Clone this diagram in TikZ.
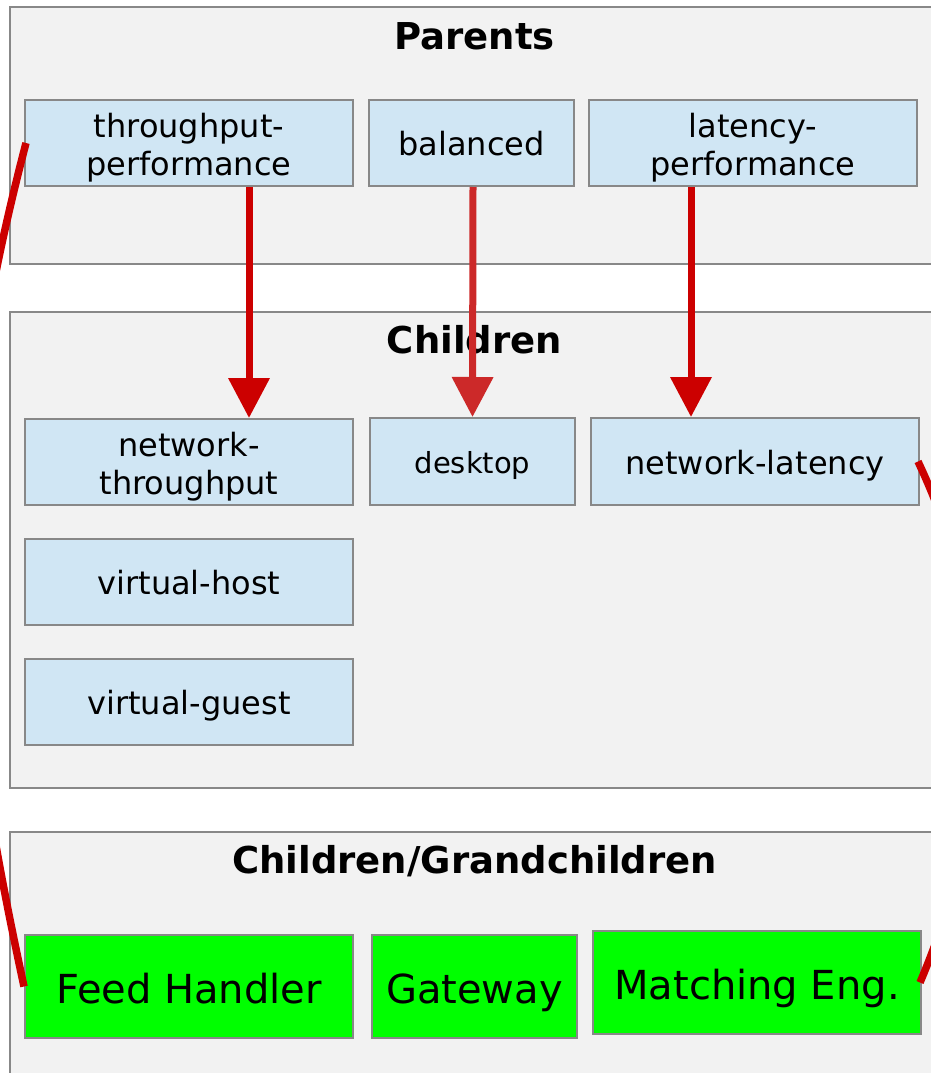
\documentclass[tikz,border=0pt]{standalone}
\usepackage{fontspec}
\setmainfont{DejaVu Sans}
\usetikzlibrary{arrows.meta,calc}
\definecolor{clfill}{HTML}{F2F2F2}
\definecolor{clline}{HTML}{888888}
\definecolor{nfill}{HTML}{D0E6F4}
\definecolor{redA}{HTML}{CC0000}
\definecolor{redB}{HTML}{CC2929}
\definecolor{grn}{HTML}{00FF00}
\begin{document}
\begin{tikzpicture}[x=1pt,y=-1pt,
  cluster/.style={draw=clline,fill=clfill,line width=2pt},
  ctitle/.style={font=\fontsize{37}{40}\selectfont\bfseries,anchor=center},
  box/.style={draw=clline,fill=nfill,line width=2pt,inner sep=0pt,minimum width=328pt,minimum height=86pt,align=center,font=\fontsize{32}{37.5}\selectfont,text height=33.5pt,text depth=7.7pt},
  twoline/.style={text height=70pt,text depth=6pt},
  narrow/.style={minimum width=205pt},
  gbox/.style={box,fill=grn,minimum height=103pt,font=\fontsize{40}{44}\selectfont,text height=38pt,text depth=4pt},
  arr/.style={line width=7pt,-{Triangle[width=40pt,length=40pt]}},
  curve/.style={line width=7.5pt,draw=redA}]
\useasboundingbox (0,0) rectangle (931,1073);
\begin{scope}
\clip (0,0) rectangle (931,1073);
\draw[cluster] (10,7) rectangle (960,264);
\draw[cluster] (10,312) rectangle (960,788);
\draw[cluster] (10,832) rectangle (960,1100);
\node[ctitle] (t1) at (474.5,36) {Parents};
\node[ctitle] (t2) at (474.5,340) {Children};
\node[ctitle] (t3) at (474.5,861) {Children/Grandchildren};

\node[box,twoline] (tp) at (189,143) {throughput-\\performance};
\node[box,narrow] (ba) at (471.5,143) {balanced};
\node[box,twoline] (lp) at (753,143) {latency-\\performance};
\node[box,twoline] (nt) at (189,462) {network-\\throughput};
\node[box,narrow,minimum height=87pt,font=\fontsize{29}{34}\selectfont,text height=30pt,text depth=7pt] (de) at (472.5,461.5) {desktop};
\node[box,minimum height=87pt] (nl) at (755,461.5) {network-latency};
\node[box] (vh) at (189,582) {virtual-host};
\node[box] (vg) at (189,702) {virtual-guest};
\node[gbox] (fh) at (189,986.5) {Feed Handler};
\node[gbox,narrow] (gw) at (474.5,986.5) {Gateway};
\node[gbox] (me) at (757,982.5) {Matching Eng.};

\draw[arr,draw=redA,fill=redA] ([xshift=60pt]tp.south) -- ([xshift=60pt]nt.north);
\draw[arr,draw=redB,fill=redB] ([xshift=1.5pt]ba.south) -- (de.north);
\draw[arr,draw=redA,fill=redA] ([xshift=-62pt]lp.south) -- ([xshift=-64pt]nl.north);

\draw[curve] ([xshift=2pt]tp.west) .. controls (-56,458) and (-50,644) .. (fh.west);
\draw[curve] ([xshift=-2pt]nl.east) .. controls (1003,642) and (991,815) .. ([xshift=-2pt]me.east);
\end{scope}
\end{tikzpicture}
\end{document}
